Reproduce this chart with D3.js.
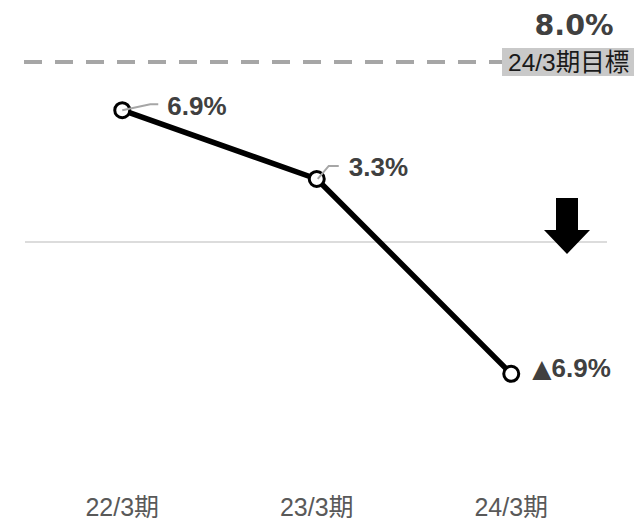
<!DOCTYPE html>
<html>
<head>
<meta charset="utf-8">
<script src="https://cdn.jsdelivr.net/npm/d3@7"></script>
<style>
  html, body { margin: 0; padding: 0; background: #fff; }
  svg { display: block; }
</style>
</head>
<body>
<svg id="chart" width="634" height="522"></svg>
<script>
// ---- data ----
const categories = ["22/3期", "23/3期", "24/3期"];
const values = [6.9, 3.3, -6.9];
const valueLabels = ["6.9%", "3.3%", "▲6.9%"];
const targetValueLabel = "8.0%";
const targetName = "24/3期目標";

// ---- layout ----
const W = 634, H = 522;
const svg = d3.select("#chart");

const x = d3.scalePoint().domain(categories).range([25, 608.5]).padding(0.5);
const y = d3.scaleLinear().domain([-10, 10]).range([433, 51]);

const targetLineY = 62;
const grey = "#404040";

// zero baseline
svg.append("line")
  .attr("x1", 25).attr("x2", 607)
  .attr("y1", y(0)).attr("y2", y(0))
  .attr("stroke", "#dcdcdc").attr("stroke-width", 2);

// target dashed line
svg.append("line")
  .attr("x1", 24).attr("x2", 503)
  .attr("y1", targetLineY).attr("y2", targetLineY)
  .attr("stroke", "#a6a6a6").attr("stroke-width", 4)
  .attr("stroke-dasharray", "18,13");

// target label box
const boxG = svg.append("g");
boxG.append("rect")
  .attr("x", 502).attr("y", 48).attr("width", 140).attr("height", 28)
  .attr("fill", "#c9c9c9");
boxG.append("text")
  .attr("x", 508).attr("y", 71)
  .attr("font-family", "'Liberation Sans', 'Noto Sans CJK JP', sans-serif")
  .attr("font-size", 24.5)
  .attr("fill", "#1a1a1a")
  .text(targetName);

svg.append("text")
  .attr("x", 574).attr("y", 35)
  .attr("text-anchor", "middle")
  .attr("font-family", "'DejaVu Sans', sans-serif")
  .attr("font-weight", "bold")
  .attr("font-size", 28.5)
  .attr("fill", grey)
  .text(targetValueLabel);

// down arrow
const ax = 567;
svg.append("path")
  .attr("d", `M${ax-11},198 L${ax+11},198 L${ax+11},230 L${ax+23},230 L${ax},254 L${ax-23},230 L${ax-11},230 Z`)
  .attr("fill", "#000");

// data
const pts = categories.map((c, i) => ({ c, v: values[i], label: valueLabels[i] }));

const line = d3.line().x(d => x(d.c)).y(d => y(d.v));
svg.append("path")
  .datum(pts)
  .attr("d", line)
  .attr("fill", "none")
  .attr("stroke", "#000")
  .attr("stroke-width", 5.5)
  .attr("stroke-linejoin", "round");

svg.selectAll("circle.pt")
  .data(pts).join("circle")
  .attr("class", "pt")
  .attr("cx", d => x(d.c)).attr("cy", d => y(d.v))
  .attr("r", 7.5)
  .attr("fill", "#fff")
  .attr("stroke", "#000")
  .attr("stroke-width", 3);

// label placements (layout offsets relative to point)
const labelOffsets = [
  { dx: 45, dy: 5, leader: [[0, 0], [28, -6], [36, -6]] },
  { dx: 32, dy: -3, leader: [[1, 0], [12, -13], [22, -13]] },
  { dx: 21, dy: 3, leader: null }
];

pts.forEach((d, i) => {
  const px = x(d.c), py = y(d.v), o = labelOffsets[i];
  if (o.leader) {
    svg.append("polyline")
      .attr("points", o.leader.map(p => `${px + p[0]},${py + p[1]}`).join(" "))
      .attr("fill", "none")
      .attr("stroke", "#a6a6a6")
      .attr("stroke-width", 2);
  }
  const t = svg.append("text")
    .attr("x", px + o.dx).attr("y", py + o.dy)
    .attr("font-family", "'Liberation Sans', Arial, sans-serif")
    .attr("font-weight", "bold")
    .attr("font-size", 26)
    .attr("fill", grey);
  const s = d.label;
  if (s.startsWith("▲")) {
    t.append("tspan")
      .attr("font-family", "'DejaVu Sans', sans-serif")
      .attr("font-weight", "normal")
      .attr("font-size", 25)
      .text("▲");
    t.append("tspan").text(s.slice(1));
  } else {
    t.text(s);
  }
});

// category axis labels
svg.selectAll("text.cat")
  .data(categories).join("text")
  .attr("class", "cat")
  .attr("x", d => x(d))
  .attr("y", 516)
  .attr("text-anchor", "middle")
  .attr("font-family", "'Liberation Sans', 'Noto Sans CJK JP', sans-serif")
  .attr("font-size", 25)
  .attr("fill", "#595959")
  .text(d => d);
</script>
</body>
</html>
